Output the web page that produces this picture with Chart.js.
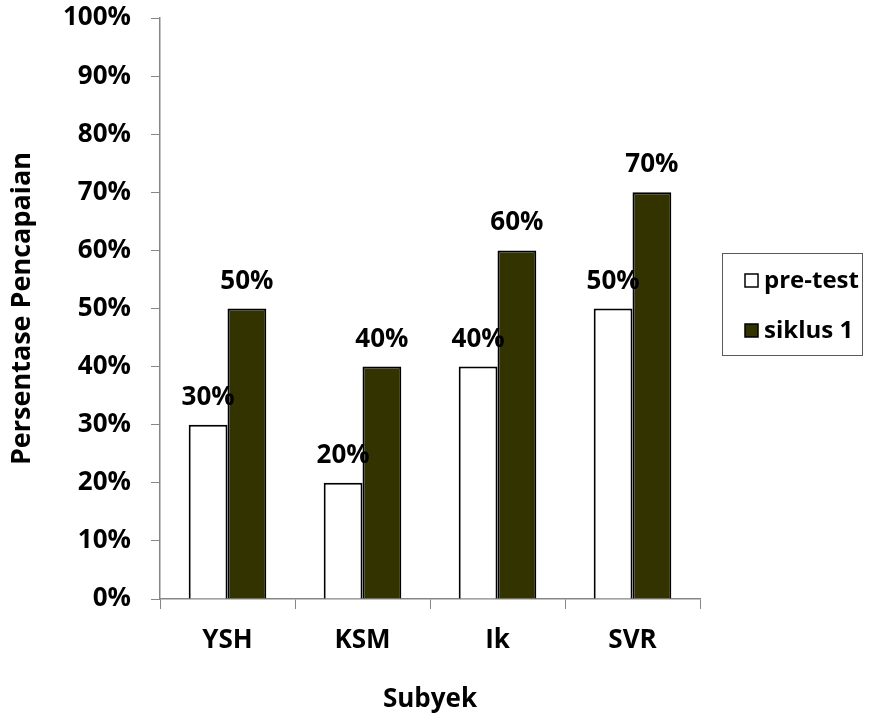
<!DOCTYPE html>
<html>
<head>
<meta charset="utf-8">
<script src="https://cdn.jsdelivr.net/npm/chart.js@4.4.1/dist/chart.umd.min.js"></script>
<style>
  html, body { margin: 0; padding: 0; background: #ffffff; }
  #wrap { width: 879px; height: 717px; position: relative; }
</style>
</head>
<body>
<div id="wrap"><canvas id="c" width="879" height="717"></canvas></div>
<script>
// Subjects and achievement percentages per phase
const subjects = ['YSH', 'KSM', 'Ik', 'SVR'];
const preTest = [30, 20, 40, 50];
const siklus1 = [50, 40, 60, 70];
const seriesNames = ['pre-test', 'siklus 1'];
const yTicks = [0, 10, 20, 30, 40, 50, 60, 70, 80, 90, 100];

const FONT = '"Open Sans", "Liberation Sans", sans-serif';
const AXIS_GRAY = '#868686';

// Percent label drawn above every bar
const valueLabels = {
  id: 'valueLabels',
  afterDatasetsDraw(chart) {
    const ctx = chart.ctx;
    ctx.save();
    ctx.font = 'bold 26px ' + FONT;
    ctx.fillStyle = '#000';
    ctx.textAlign = 'center';
    ctx.textBaseline = 'alphabetic';
    chart.data.datasets.forEach((ds, i) => {
      chart.getDatasetMeta(i).data.forEach((bar, j) => {
        ctx.fillText(ds.data[j] + '%', bar.x, bar.y - 20);
      });
    });
    ctx.restore();
  }
};

// Boxed legend at the right of the plot
const boxLegend = {
  id: 'boxLegend',
  afterDraw(chart) {
    const ctx = chart.ctx;
    const x0 = 722.5, y0 = 253.5, w = 140, h = 102;
    ctx.save();
    ctx.strokeStyle = '#5a5a5a';
    ctx.lineWidth = 1;
    ctx.strokeRect(x0, y0, w, h);
    ctx.font = 'bold 24px ' + FONT;
    ctx.textBaseline = 'middle';
    chart.data.datasets.forEach((ds, i) => {
      const cy = 281 + i * 50;
      ctx.fillStyle = ds.backgroundColor;
      ctx.fillRect(745, cy - 7, 13, 13);
      ctx.strokeStyle = '#000';
      ctx.lineWidth = 1.5;
      ctx.strokeRect(745, cy - 7, 13, 13);
      ctx.fillStyle = '#000';
      ctx.fillText(ds.label, 764, cy);
    });
    ctx.restore();
  }
};

new Chart(document.getElementById('c'), {
  type: 'bar',
  data: {
    labels: subjects,
    datasets: [
      { label: seriesNames[0], data: preTest, backgroundColor: '#ffffff', borderColor: '#000000', borderWidth: 2 },
      { label: seriesNames[1], data: siklus1, backgroundColor: '#333300', borderColor: '#000000', borderWidth: 2 }
    ]
  },
  options: {
    responsive: false,
    animation: false,
    events: [],
    categoryPercentage: 0.575,
    barPercentage: 1.0,
    layout: { padding: { top: 18, right: 179, left: 0, bottom: 0 } },
    plugins: {
      legend: { display: false },
      tooltip: { enabled: false }
    },
    scales: {
      x: {
        grid: { drawOnChartArea: false, drawTicks: true, tickLength: 10, color: AXIS_GRAY, offset: true },
        border: { color: AXIS_GRAY, width: 1.5 },
        ticks: { color: '#000', font: { family: FONT, size: 26, weight: 'bold' }, padding: 16 },
        title: { display: true, text: 'Subyek', color: '#000', font: { family: FONT, size: 26, weight: 'bold' }, padding: { top: 20, bottom: 2 } },
        afterFit(scale) { scale.height = 118; }
      },
      y: {
        min: 0, max: 100,
        afterBuildTicks(scale) { scale.ticks = yTicks.map(v => ({ value: v })); },
        grid: { drawOnChartArea: false, drawTicks: true, tickLength: 9, color: AXIS_GRAY },
        border: { color: AXIS_GRAY, width: 1.5 },
        ticks: { color: '#000', font: { family: FONT, size: 26, weight: 'bold' }, padding: 20, callback: v => v + '%' },
        title: { display: true, text: 'Persentase Pencapaian', color: '#000', font: { family: FONT, size: 27, weight: 'bold' }, padding: { top: 6, bottom: 0 } },
        afterFit(scale) {
          scale.width = 160;
          scale.paddingTop = 0;
          scale.paddingBottom = 0;
        }
      }
    }
  },
  plugins: [valueLabels, boxLegend]
});
</script>
</body>
</html>
